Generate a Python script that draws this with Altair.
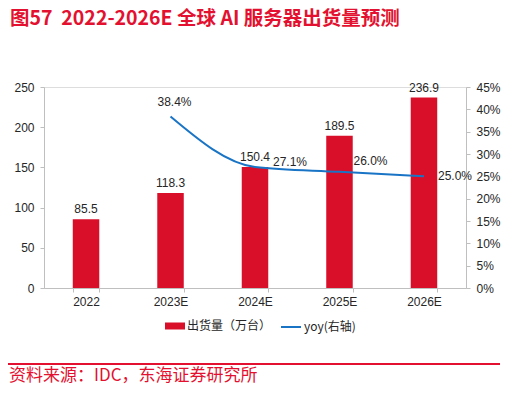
import altair as alt
import pandas as pd

years = ["2022", "2023E", "2024E", "2025E", "2026E"]
shipments = [85.5, 118.3, 150.4, 189.5, 236.9]
yoy = [None, 0.384, 0.271, 0.260, 0.250]

title_text = "图57\u00a0\u00a02022-2026E 全球 AI 服务器出货量预测"
source_text = "资料来源：IDC，东海证券研究所"
bar_name = "出货量（万台）"
line_name = "yoy(右轴)"

RED = "#d90f2a"
TRED = "#e3112f"
BLUE = "#1a74c6"
AX = "#bfbfbf"
TXT = "#262626"
FONT = "Liberation Sans"
CJK = "Noto Sans CJK SC"

df = pd.DataFrame({"year": years, "shipments": shipments, "yoy": yoy,
                   "bar": [bar_name] * 5, "line": [line_name] * 5})

W, H = 422, 201

x = alt.X("year:N", sort=years, title=None,
          scale=alt.Scale(paddingInner=0.685, paddingOuter=0.34),
          axis=alt.Axis(labelAngle=0, labelFont=FONT, labelFontSize=12, labelColor=TXT,
                        domainColor=AX, tickColor=AX, tickSize=4, tickBand="extent",
                        labelPadding=4))

ybar = alt.Y("shipments:Q", title=None,
             scale=alt.Scale(domain=[0, 250]),
             axis=alt.Axis(values=[0, 50, 100, 150, 200, 250], grid=False,
                           labelFont=FONT, labelFontSize=12, labelColor=TXT,
                           domainColor=AX, tickColor=AX, tickSize=4, labelPadding=6))

bars = alt.Chart(df).mark_bar(size=26.5).encode(
    x=x,
    y=ybar,
    color=alt.Color("bar:N", scale=alt.Scale(domain=[bar_name], range=[RED]),
                    legend=alt.Legend(title=None, orient="none", legendX=121, legendY=229,
                                      symbolType="M-1,-0.35L1,-0.35L1,0.35L-1,0.35Z",
                                      symbolSize=400, symbolStrokeWidth=0,
                                      labelFont=CJK, labelFontSize=12, labelColor=TXT,
                                      labelOffset=2)),
)

bar_labels = alt.Chart(df).mark_text(dy=-10, font=FONT, fontSize=12, color=TXT).encode(
    x=alt.X("year:N", sort=years),
    y=ybar,
    text=alt.Text("shipments:Q", format=".1f"),
)

y2 = alt.Y("yoy:Q", title=None, scale=alt.Scale(domain=[0, 0.45]),
           axis=alt.Axis(values=[i * 0.05 for i in range(10)], format=".0%", orient="right",
                         grid=False, labelFont=FONT, labelFontSize=12, labelColor=TXT,
                         domainColor=AX, tickColor=AX, tickSize=4, labelPadding=6))

line = alt.Chart(df).transform_filter("datum.yoy != null").mark_line(
    interpolate="monotone", strokeWidth=2).encode(
    x=alt.X("year:N", sort=years),
    y=y2,
    stroke=alt.Stroke("line:N", scale=alt.Scale(domain=[line_name], range=[BLUE]),
                      legend=alt.Legend(title=None, orient="none", legendX=236, legendY=229,
                                        symbolType="stroke", symbolSize=400,
                                        symbolStrokeWidth=2,
                                        labelFont=CJK, labelFontSize=12, labelColor=TXT,
                                        labelOffset=2)),
)

def yoy_label(year, dx, dy, align):
    return alt.Chart(df).transform_filter(f"datum.year == '{year}'").mark_text(
        dx=dx, dy=dy, align=align, font=FONT, fontSize=12, color=TXT).encode(
        x=alt.X("year:N", sort=years),
        y=y2,
        text=alt.Text("yoy:Q", format=".1%"),
    )

yoy_labels = (yoy_label("2023E", 4, -14, "center") + yoy_label("2024E", 18, -5, "left")
              + yoy_label("2025E", 14, -11, "left") + yoy_label("2026E", 14, 0, "left"))

title = alt.Chart(df).transform_filter("datum.year == '2022'").mark_text(
    text=title_text, align="left", baseline="middle", font=CJK, fontSize=19.5,
    fontWeight="bold", color=TRED).encode(x=alt.value(-34), y=alt.value(-68))

source_rule = alt.Chart(df).transform_filter("datum.year == '2022'").mark_rule(
    color=TRED, strokeWidth=2).encode(x=alt.value(-36), x2=alt.value(456), y=alt.value(277))

source = alt.Chart(df).transform_filter("datum.year == '2022'").mark_text(
    text=source_text, align="left", baseline="middle", font=CJK, fontSize=17,
    color=TRED).encode(x=alt.value(-35), y=alt.value(288.5))

left = alt.layer(bars, bar_labels)
right = alt.layer(line, yoy_labels)

chart = alt.layer(left, right, title, source_rule, source).resolve_scale(
    y="independent", color="independent", stroke="independent"
).properties(
    width=W, height=H,
    autosize=alt.AutoSizeParams(type="none"),
    padding={"left": 36, "top": 79, "right": 36, "bottom": 97},
).configure_view(stroke=None).configure(background="white")

chart.save("out.html", embed_options={"renderer": "svg", "actions": False})
